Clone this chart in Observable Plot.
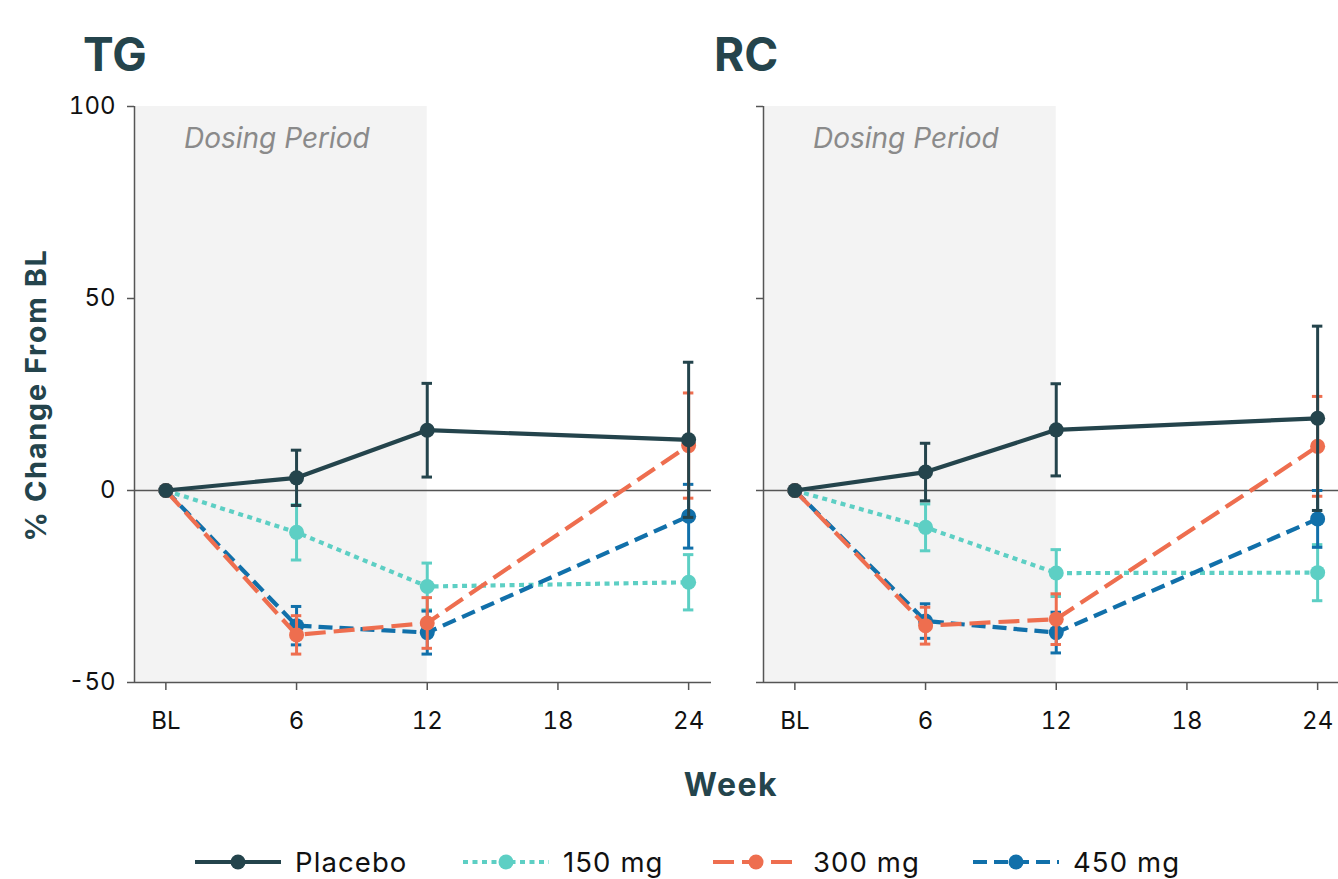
<!DOCTYPE html>
<html>
<head>
<meta charset="utf-8">
<script src="https://cdn.jsdelivr.net/npm/d3@7"></script>
<script src="https://cdn.jsdelivr.net/npm/@observablehq/plot@0.6"></script>
<style>
  html, body { margin: 0; padding: 0; background: #fff; overflow: hidden; }
  #root { position: relative; width: 1338px; height: 879px; overflow: hidden; font-family: Inter, "Noto Sans", sans-serif; }
  .abs { position: absolute; }
  .title { font-weight: 700; font-size: 46px; color: #24444c; line-height: 1; }
  .axlabel { font-weight: 700; color: #24444c; line-height: 1; white-space: nowrap; }
</style>
</head>
<body>
<div id="root"></div>
<script>
// ---- data ----
const weeks = [0, 6, 12, 24];
const weekTicks = [0, 6, 12, 18, 24];
const yTicks = [-50, 0, 50, 100];
const seriesNames = ["Placebo", "150 mg", "300 mg", "450 mg"];
const seriesColors = ["#24444c", "#5dcfc4", "#ee6e4f", "#1170aa"];
const seriesDash = [null, "5,4.5", "21,8", "14,7"];

const tgPlacebo = [0, 3.3, 15.7, 13.2];
const tgPlaceboErr = [0, 7.2, 12.2, 20.2];
const tg150 = [0, -10.9, -25.0, -23.9];
const tg150Err = [0, 7.2, 6.1, 7.2];
const tg300 = [0, -37.6, -34.5, 11.7];
const tg300Err = [0, 5.0, 6.6, 13.7];
const tg450 = [0, -35.2, -37.0, -6.7];
const tg450Err = [0, 5.0, 5.6, 8.3];

const rcPlacebo = [0, 4.8, 15.8, 18.8];
const rcPlaceboErr = [0, 7.5, 12.0, 24.0];
const rc150 = [0, -9.6, -21.5, -21.4];
const rc150Err = [0, 6.1, 6.1, 7.3];
const rc300 = [0, -35.2, -33.5, 11.5];
const rc300Err = [0, 4.8, 6.6, 13.0];
const rc450 = [0, -34.0, -37.0, -7.4];
const rc450Err = [0, 4.5, 5.3, 7.4];

const panelTitles = ["TG", "RC"];
const dosingEnd = 12;
const xDomain = [-1.44, 25.05];
const yDomain = [-50, 100];

// ---- build tables ----
function table(vals, errs, name) {
  return weeks.map((w, i) => ({week: w, v: vals[i], e: errs[i], series: name}));
}
const tgData = [
  table(tgPlacebo, tgPlaceboErr, "Placebo"),
  table(tg150, tg150Err, "150 mg"),
  table(tg300, tg300Err, "300 mg"),
  table(tg450, tg450Err, "450 mg")
];
const rcData = [
  table(rcPlacebo, rcPlaceboErr, "Placebo"),
  table(rc150, rc150Err, "150 mg"),
  table(rc300, rc300Err, "300 mg"),
  table(rc450, rc450Err, "450 mg")
];

const drawOrder = [1, 3, 2, 0]; // 150, 450, 300, placebo on top
const fontFamily = 'Inter, "Noto Sans", sans-serif';
const capHalf = 0.24;

function seriesMarks(data) {
  const marks = [];
  for (const k of drawOrder) {
    const pts = data[k];
    const col = seriesColors[k];
    const bars = pts.filter(d => d.e > 0);
    const lineOpts = {x: "week", y: "v", stroke: col, strokeWidth: 4.2, strokeLinecap: "butt"};
    if (seriesDash[k]) lineOpts.strokeDasharray = seriesDash[k];
    marks.push(Plot.line(pts, lineOpts));
    marks.push(Plot.ruleX(bars, {x: "week", y1: d => d.v - d.e, y2: d => d.v + d.e, stroke: col, strokeWidth: 3}));
    marks.push(Plot.ruleY(bars, {x1: d => d.week - capHalf, x2: d => d.week + capHalf, y: d => d.v + d.e, stroke: col, strokeWidth: 3}));
    marks.push(Plot.ruleY(bars, {x1: d => d.week - capHalf, x2: d => d.week + capHalf, y: d => d.v - d.e, stroke: col, strokeWidth: 3}));
    marks.push(Plot.dot(pts, {x: "week", y: "v", r: 7.5, fill: col, stroke: "none"}));
  }
  return marks;
}

function panel(data, showYLabels, marginLeft, width) {
  return Plot.plot({
    width: width,
    height: 740,
    marginTop: 106,
    marginBottom: 58,
    marginLeft: marginLeft,
    marginRight: width - marginLeft - 577,
    x: {domain: xDomain},
    y: {domain: yDomain},
    style: {fontFamily: fontFamily, fontSize: "24px", color: "#111", background: "transparent", overflow: "visible"},
    marks: [
      Plot.rect([0], {x1: xDomain[0], x2: dosingEnd, y1: yDomain[0], y2: yDomain[1], fill: "#f3f3f3"}),
      Plot.text(["Dosing Period"], {x: (xDomain[0] + dosingEnd) / 2, frameAnchor: "top", dy: 22, text: d => d,
        fontStyle: "italic", fontSize: 28, fill: "#8a8a8a", dx: -4}),
      Plot.ruleY([0], {stroke: "#555", strokeWidth: 1.5}),
      ...seriesMarks(data),
      Plot.ruleX([xDomain[0]], {stroke: "#555", strokeWidth: 1.5}),
      Plot.ruleY([yDomain[0]], {stroke: "#555", strokeWidth: 1.5}),
      Plot.axisX({ticks: weekTicks, tickFormat: d => d === 0 ? "BL" : String(d), tickSize: 8, tickPadding: 21,
        label: null, stroke: "#555", strokeWidth: 1.5, fill: "#111", fontSize: 24}),
      Plot.axisY({ticks: yTicks, tickFormat: showYLabels ? (d => String(d)) : (() => ""),
        tickSize: 7, tickPadding: 12, label: null, stroke: "#555", strokeWidth: 1.5, fill: "#111", fontSize: 24})
    ]
  });
}

const root = document.getElementById("root");

const left = panel(tgData, true, 134, 731);
left.style.position = "absolute"; left.style.left = "0px"; left.style.top = "0px";
root.appendChild(left);

const right = panel(rcData, false, 30, 627);
right.style.position = "absolute"; right.style.left = "733px"; right.style.top = "0px";
root.appendChild(right);

// titles
const titleX = [83, 714];
panelTitles.forEach((t, i) => {
  const d = document.createElement("div");
  d.className = "abs title";
  d.textContent = t;
  d.style.left = titleX[i] + "px";
  d.style.top = "31px";
  root.appendChild(d);
});

// y label
const yl = document.createElement("div");
yl.className = "abs axlabel";
yl.textContent = "% Change From BL";
yl.style.fontSize = "29px";
yl.style.letterSpacing = "1.6px";
yl.style.left = "35px"; yl.style.top = "395px";
yl.style.transform = "translate(-50%, -50%) rotate(-90deg)";
root.appendChild(yl);

// x label
const xl = document.createElement("div");
xl.className = "abs axlabel";
xl.textContent = "Week";
xl.style.fontSize = "32px";
xl.style.letterSpacing = "1.5px";
xl.style.left = "731px"; xl.style.top = "785px";
xl.style.transform = "translate(-50%, -50%)";
root.appendChild(xl);

// legend
const legendX = [195, 463, 713, 973];
const svg = d3.select(root).append("svg")
  .attr("width", 1338).attr("height", 60)
  .style("position", "absolute").style("left", "0px").style("top", "832px");
seriesNames.forEach((name, i) => {
  const g = svg.append("g").attr("transform", `translate(${legendX[i]},30)`);
  const ln = g.append("line").attr("x1", 0).attr("x2", 86).attr("y1", 0).attr("y2", 0)
    .attr("stroke", seriesColors[i]).attr("stroke-width", 4.2);
  if (seriesDash[i]) ln.attr("stroke-dasharray", seriesDash[i]);
  g.append("circle").attr("cx", 43).attr("cy", 0).attr("r", 7.5).attr("fill", seriesColors[i]);
  g.append("text").attr("x", 100).attr("y", 0).attr("dy", "0.36em")
    .attr("font-family", fontFamily).attr("font-size", 27.5).attr("letter-spacing", "1.1px")
    .attr("fill", "#111").text(name);
});
</script>
</body>
</html>
